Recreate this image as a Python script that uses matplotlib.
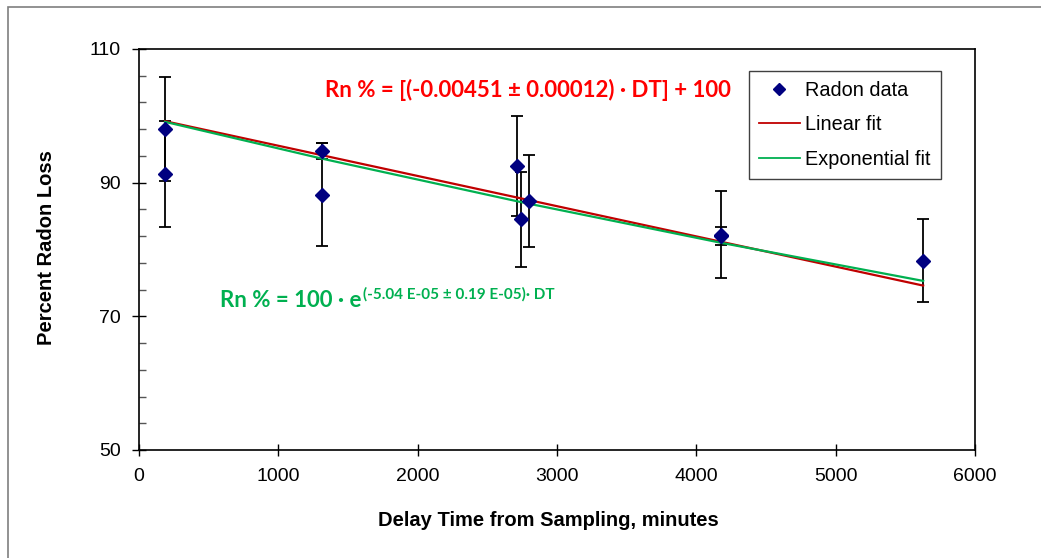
import matplotlib
matplotlib.use("Agg")
from matplotlib import pyplot as plt
from matplotlib.lines import Line2D
from matplotlib.patches import Rectangle

# radon data (delay time in minutes, percent radon, uncertainty)
delay = [187, 187, 1312, 1312, 2711, 2740, 2800, 4178, 4178, 5628]
radon = [98.0, 91.3, 94.8, 88.2, 92.5, 84.5, 87.2, 82.2, 82.0, 78.3]
radon_err = [7.8, 7.9, 1.2, 7.7, 7.5, 7.1, 6.9, 6.5, 1.3, 6.2]

# fit curves
lin_x = [187, 5628]
lin_y = [99.2, 74.6]
exp_x = [187, 1312, 2740, 4178, 5628]
exp_y = [99.1, 93.6, 87.1, 81.0, 75.3]

plt.rcParams['font.family'] = ['Liberation Sans', 'DejaVu Sans']

fig = plt.figure(figsize=(10.41, 5.58), dpi=100)
ax = fig.add_axes([139 / 1041, 1 - 450 / 558, (975 - 139) / 1041, (450 - 49) / 558])

# outer chart border
fig.patches.append(Rectangle((8 / 1041, -0.1), 1.2, 1 - 7 / 558 + 0.1,
                             transform=fig.transFigure, fill=False,
                             edgecolor='#7f7f7f', linewidth=1.2))

ax.errorbar(delay, radon, yerr=radon_err, fmt='none', ecolor='black',
            elinewidth=1.3, capsize=4.5, capthick=1.3, zorder=2)
ax.plot(lin_x, lin_y, color='#C00000', linewidth=1.6, zorder=3)
ax.plot(exp_x, exp_y, color='#00B050', linewidth=1.6, zorder=3)
ax.plot(delay, radon, linestyle='none', marker='D', markersize=7,
        color='#000080', zorder=4)

ax.set_xlim(0, 6000)
ax.set_ylim(50, 110)
ax.set_xticks([0, 1000, 2000, 3000, 4000, 5000, 6000])
ax.set_yticks([50, 70, 90, 110])
ax.set_yticks(range(50, 111, 4), minor=True)
ax.tick_params(axis='x', direction='inout', length=8, width=1, labelsize=14, pad=9)
ax.tick_params(axis='y', which='major', direction='inout', length=10, width=1,
               labelsize=14, pad=8)
ax.tick_params(axis='y', which='minor', direction='in', length=5, width=1,
               color='#555555')
for s in ax.spines.values():
    s.set_linewidth(1.2)
    s.set_color('black')

fig.text(548 / 1041, 1 - 520 / 558, 'Delay Time from Sampling, minutes',
         fontsize=14.5, fontweight='bold', ha='center', va='center')
fig.text(47 / 1041, 1 - 248 / 558, 'Percent Radon Loss', rotation=90,
         fontsize=14.5, fontweight='bold', ha='center', va='center')

handles = [
    Line2D([], [], linestyle='none', marker='D', markersize=6, color='#000080'),
    Line2D([], [], color='#C00000', linewidth=1.3),
    Line2D([], [], color='#00B050', linewidth=1.3),
]
leg = ax.legend(handles, ['Radon data', 'Linear fit', 'Exponential fit'],
                loc='upper right', bbox_to_anchor=(940.7 / 1041, 1 - 70.7 / 558),
                bbox_transform=fig.transFigure, fontsize=14.3, fancybox=False,
                framealpha=1, edgecolor='#404040', borderpad=0.5,
                handlelength=2.05, handletextpad=0.28, labelspacing=0.78,
                borderaxespad=0)
leg.get_frame().set_linewidth(1.0)

eqfont = ['Lato', 'DejaVu Sans']
ax.text(0.465, 0.897, 'Rn % = [(-0.00451 \u00b1 0.00012) \u00b7 DT] + 100',
        transform=ax.transAxes, ha='center', va='center', color='#FF0000',
        fontsize=16, fontweight='bold', family=eqfont)

t = ax.text(220 / 1041, 1 - 307 / 558, 'Rn % = 100 \u00b7 e', transform=fig.transFigure,
            ha='left', va='baseline', color='#00B050', fontsize=16,
            fontweight='bold', family=eqfont)
fig.canvas.draw()
bb = t.get_window_extent()
fig.text(bb.x1 / 1041 + 0.001, 1 - 299 / 558, '(-5.04 E-05 \u00b1 0.19 E-05)\u00b7 DT',
         ha='left', va='baseline', color='#00B050', fontsize=11,
         fontweight='bold', family=eqfont)

fig.savefig('out.png', dpi=100)
